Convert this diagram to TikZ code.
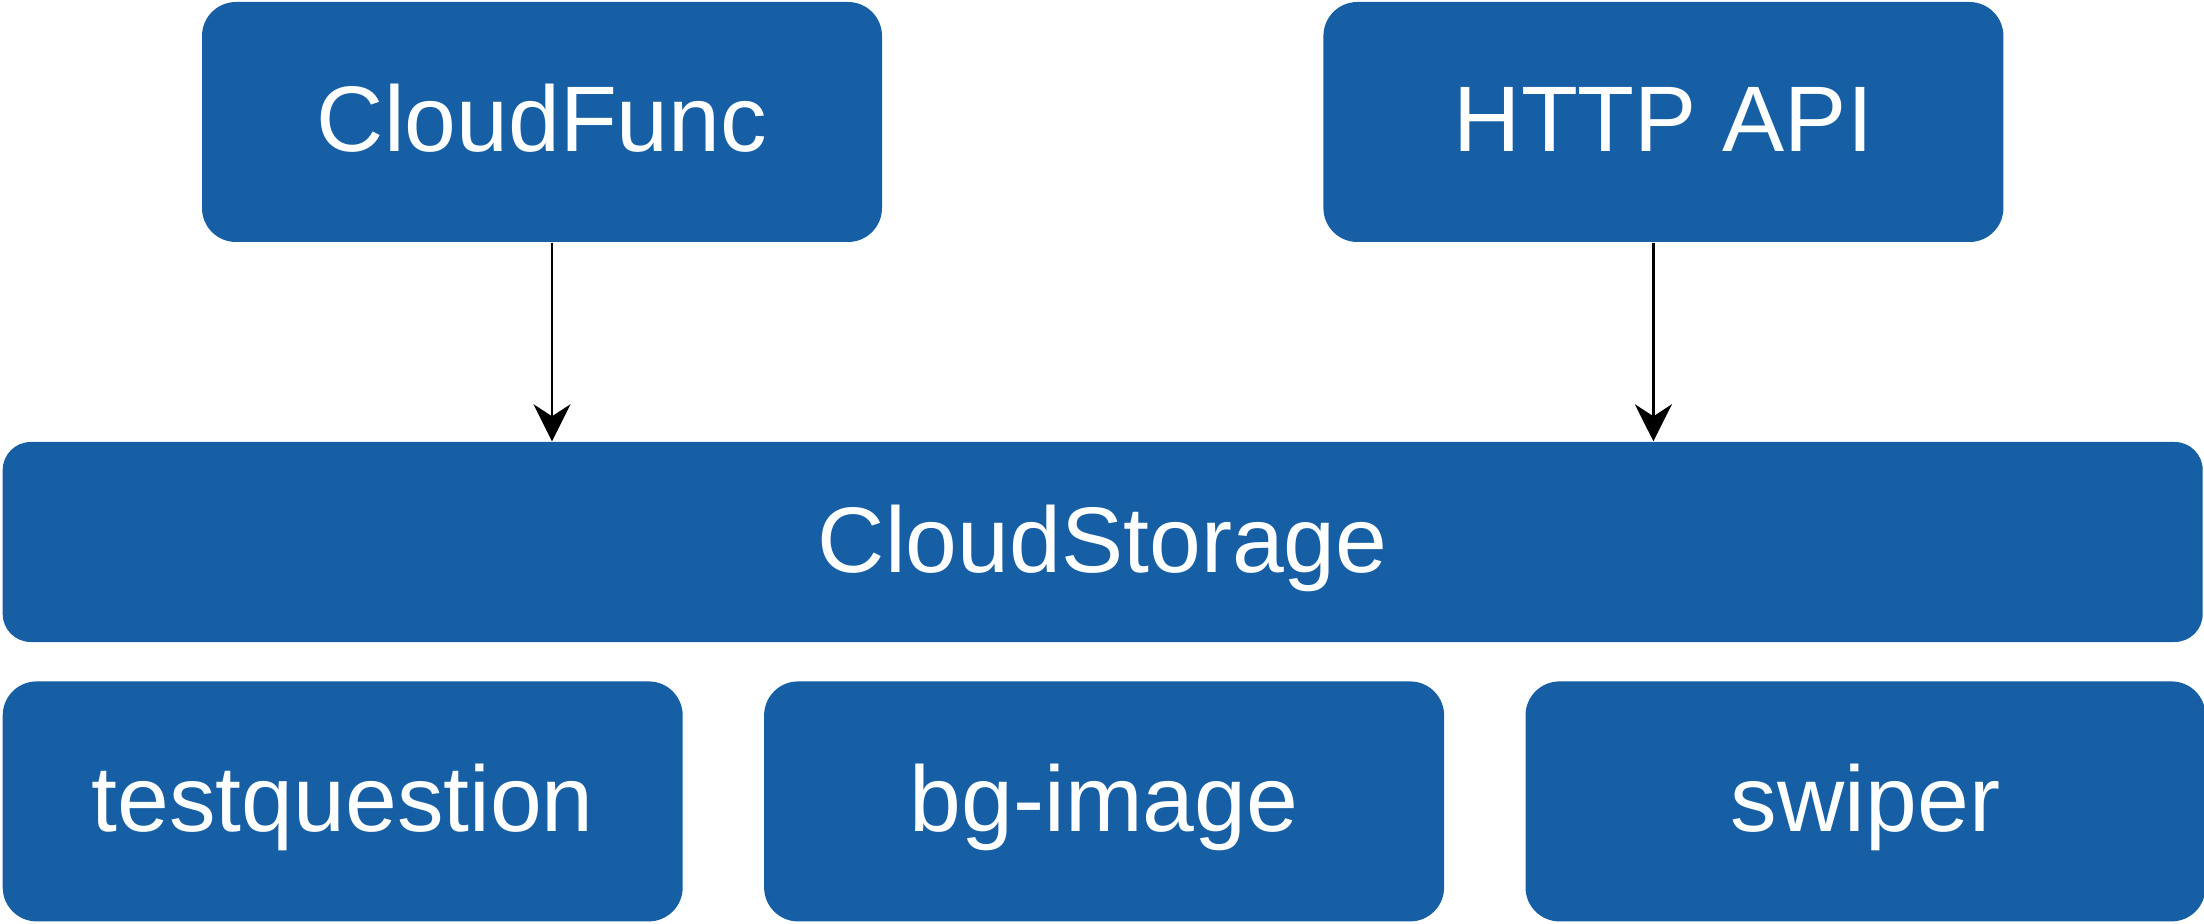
\documentclass[tikz,border=0pt]{standalone}
\usepackage{fontspec}
\setmainfont{Liberation Sans}
\usepackage{tikz}
\usetikzlibrary{arrows.meta,positioning,calc}
\definecolor{storeblue}{RGB}{23,95,165}
\tikzset{
    block/.style={rectangle, fill=storeblue, text=white, rounded corners=3.4mm, inner sep=0pt, minimum width=6.8cm, minimum height=2.4cm, text height=0.70cm, text depth=0.10cm, font=\fontsize{26.5}{30}\selectfont},
    wideblock/.style={block, rounded corners=2.8mm, minimum width=22cm, minimum height=2cm},
    line/.style={draw, line width=0.85pt, -{Stealth[length=3.7mm, width=3.7mm, inset=1.2mm]}}
}
\begin{document}
\begin{tikzpicture}
    \useasboundingbox (0,0) rectangle (22.04,-9.24);
    % Access layer
    \node [block] (func) at (5.42,-1.22) {CloudFunc};
    \node [block, right=4.4cm of func] (api) {HTTP API};

    % Storage
    \node [wideblock] (storage) at ($(func)!0.5!(api) + (0,-4.2)$) {CloudStorage};

    % Folders
    \node [block, below right=0.38cm and 0cm of storage.south west] (tq) {testquestion};
    \node [block, right=0.8cm of tq] (bgimg) {bg-image};
    \node [block, right=0.8cm of bgimg] (swiper) {swiper};

    % Access flows
    \path [line] ([xshift=1mm]func.south) -- ([xshift=1mm]func.south |- storage.north);
    \path [line] ([xshift=-1mm]api.south) -- ([xshift=-1mm]api.south |- storage.north);
\end{tikzpicture}
\end{document}
